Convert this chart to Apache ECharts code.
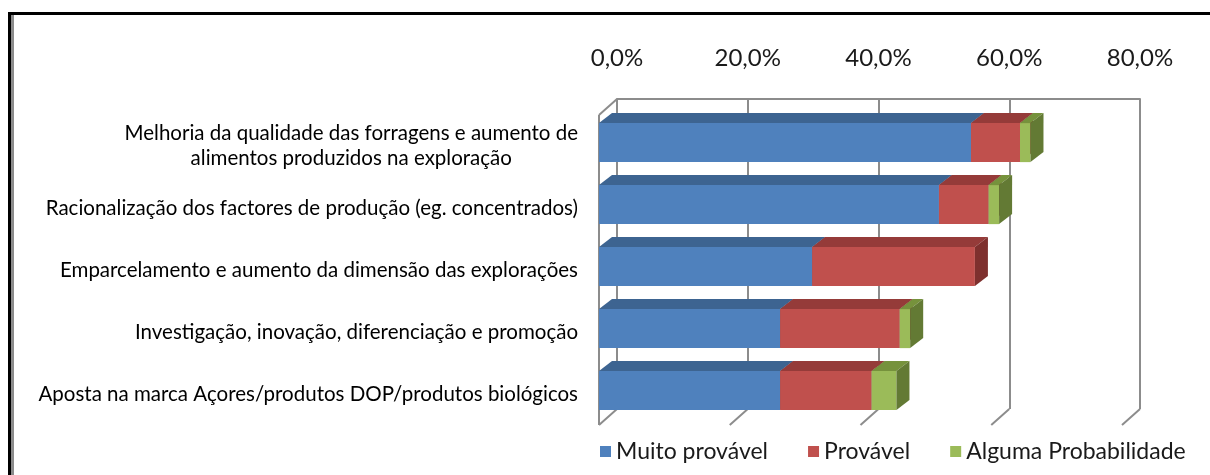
<!DOCTYPE html>
<html>
<head>
<meta charset="utf-8">
<script src="https://cdn.jsdelivr.net/npm/echarts@6/dist/echarts.min.js"></script>
<style>
  html, body { margin: 0; padding: 0; background: #fff; }
  #chart { width: 1210px; height: 475px; }
</style>
</head>
<body>
<div id="chart"></div>
<script>
// categorias (de cima para baixo)
const categories = [
  "Melhoria da qualidade das forragens e aumento de\nalimentos produzidos na exploração",
  "Racionalização dos factores de produção (eg. concentrados)",
  "Emparcelamento e aumento da dimensão das explorações",
  "Investigação, inovação, diferenciação e promoção",
  "Aposta na marca Açores/produtos DOP/produtos biológicos"
];
const seriesNames = ["Muito provável", "Provável", "Alguma Probabilidade"];
const muitoProvavel = [56.9, 52.0, 32.6, 27.7, 27.7];
const provavel = [7.5, 7.6, 24.9, 18.3, 14.0];
const algumaProb = [1.6, 1.6, 0, 1.6, 3.8];
const tickValues = [0, 20, 40, 60, 80];

// cores: frente, topo, lado
const faceColors = [
  ["#4F81BD", "#3D6491", "#375A84"],
  ["#C0504D", "#953B39", "#7E302E"],
  ["#9BBB59", "#76923C", "#637A34"]
];

const WALL_DX = 18, WALL_DY = -16;  // profundidade do "chão"
const BAR_DX = 13, BAR_DY = -10;    // profundidade das barras
const GRID_COLOR = "#8C8C8C";
const FONT = "Lato";

const chart = echarts.init(document.getElementById("chart"));

// junta as séries empilhadas em [inicio, fim, categoria]
const stacks = [muitoProvavel, provavel, algumaProb];
const base = categories.map(() => 0);
const stackedData = stacks.map(vals => vals.map((v, i) => {
  const item = [base[i], base[i] + v, i];
  base[i] += v;
  return item;
}));

const renderBar = (k) => (params, api) => {
  if (api.value(1) <= api.value(0)) return null; // valor zero: não desenha
  const s = api.coord([api.value(0), api.value(2)]);
  const e = api.coord([api.value(1), api.value(2)]);
  const band = api.size([0, 1])[1];
  const top = s[1] - band * 0.37;
  const bot = s[1] + band * 0.26;
  const x0 = s[0], x1 = e[0];
  const [front, upper, side] = faceColors[k];
  return {
    type: "group",
    children: [
      { type: "rect", shape: { x: x0, y: top, width: x1 - x0, height: bot - top },
        style: { fill: front } },
      { type: "polygon", shape: { points: [[x0, top], [x1, top], [x1 + BAR_DX, top + BAR_DY], [x0 + BAR_DX, top + BAR_DY]] },
        style: { fill: upper } },
      { type: "polygon", shape: { points: [[x1, top], [x1 + BAR_DX, top + BAR_DY], [x1 + BAR_DX, bot + BAR_DY], [x1, bot]] },
        style: { fill: side } }
    ]
  };
};

// linhas do chão e parede esquerda (parte da frente)
const renderFrame = (params, api) => {
  const cs = params.coordSys;
  const x = api.coord([api.value(0), 0])[0];
  const bottom = cs.y + cs.height;
  const lineStyle = { stroke: GRID_COLOR, lineWidth: 2 };
  const children = [
    { type: "line", shape: { x1: x, y1: bottom, x2: x + WALL_DX, y2: bottom + WALL_DY }, style: lineStyle }
  ];
  if (params.dataIndex === 0) {
    children.push(
      { type: "line", shape: { x1: x, y1: cs.y, x2: x, y2: bottom }, style: lineStyle },
      { type: "line", shape: { x1: x, y1: cs.y, x2: x + WALL_DX, y2: cs.y + WALL_DY }, style: lineStyle }
    );
  }
  return { type: "group", children };
};

const options = {
  animation: false,
  textStyle: { fontFamily: FONT },
  legend: {
    data: seriesNames,
    left: 595,
    top: 435,
    icon: "rect",
    itemWidth: 11,
    itemHeight: 11,
    itemGap: 40,
    textStyle: { fontSize: 23, color: "#1a1a1a", fontFamily: FONT }
  },
  grid: [
    { left: 599, top: 115, width: 523, height: 310 },                         // plano da frente
    { left: 599 + WALL_DX, top: 115 + WALL_DY, width: 523, height: 310 }     // parede do fundo
  ],
  xAxis: [
    { gridIndex: 0, type: "value", min: 0, max: 80, interval: 20, show: false },
    {
      gridIndex: 1, type: "value", min: 0, max: 80, interval: 20, position: "top",
      axisLine: { show: true, lineStyle: { color: GRID_COLOR, width: 2 } },
      axisTick: { show: false },
      axisLabel: {
        margin: 29, fontSize: 24, color: "#1a1a1a", fontFamily: FONT,
        formatter: v => v.toFixed(1).replace(".", ",") + "%"
      },
      splitLine: { show: true, lineStyle: { color: GRID_COLOR, width: 2 } }
    }
  ],
  yAxis: [
    {
      gridIndex: 0, type: "category", data: categories, inverse: true,
      axisLine: { show: false }, axisTick: { show: false },
      axisLabel: {
        margin: 21,
        formatter: v => v.split("\n").map(l => "{c|" + l + "}").join("\n"),
        rich: { c: { fontSize: 20.5, lineHeight: 25, align: "center", color: "#000", fontFamily: FONT } }
      }
    },
    { gridIndex: 1, type: "category", data: categories, inverse: true, show: false }
  ],
  series: [
    {
      type: "custom", name: "frame", xAxisIndex: 0, yAxisIndex: 0,
      renderItem: renderFrame, data: tickValues.map(v => [v]), silent: true, z: 1
    },
    ...seriesNames.map((name, k) => ({
      type: "custom", name, xAxisIndex: 0, yAxisIndex: 0,
      itemStyle: { color: faceColors[k][0] },
      renderItem: renderBar(k),
      encode: { x: [0, 1], y: 2 },
      data: stackedData[k], z: 2
    }))
  ],
  graphic: [
    { type: "line", shape: { x1: 9.5, y1: 12, x2: 9.5, y2: 475 }, style: { stroke: "#000", lineWidth: 3 } },
    { type: "line", shape: { x1: 8, y1: 13.5, x2: 1210, y2: 13.5 }, style: { stroke: "#000", lineWidth: 3 } },
    { type: "line", shape: { x1: 12.5, y1: 15, x2: 12.5, y2: 475 }, style: { stroke: "#8C8C8C", lineWidth: 3 } }
  ]
};

chart.setOption(options);
</script>
</body>
</html>
